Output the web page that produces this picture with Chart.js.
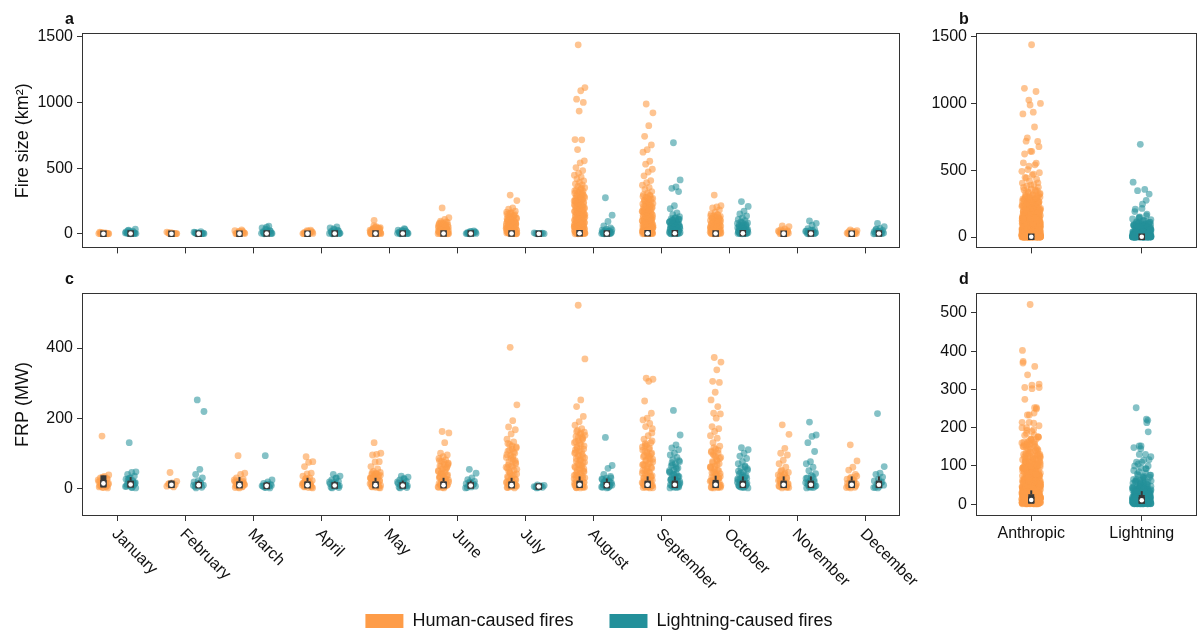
<!DOCTYPE html>
<html>
<head>
<meta charset="utf-8">
<script src="https://cdn.jsdelivr.net/npm/chart.js@4/dist/chart.umd.min.js"></script>
<style>
body { margin: 0; background: #fff; }
#wrap { position: relative; width: 1198px; height: 630px; overflow: hidden; }
canvas { position: absolute; }
</style>
</head>
<body>
<div id="wrap">
  <canvas id="panelA" width="902" height="262" style="left:0;top:0"></canvas>
  <canvas id="panelB" width="298" height="262" style="left:900px;top:0"></canvas>
  <canvas id="panelC" width="960" height="340" style="left:0;top:262px"></canvas>
  <canvas id="panelD" width="298" height="300" style="left:900px;top:262px"></canvas>
  <canvas id="legend" width="1198" height="130" style="left:0;top:576px"></canvas>
</div>
<script>
// categories and tick labels
const months = ['January', 'February', 'March', 'April', 'May', 'June',
  'July', 'August', 'September', 'October', 'November', 'December'];
const causes = ['Anthropic', 'Lightning'];
const sizeTicks = [0, 500, 1000, 1500];
const frpTicks = [0, 200, 400];
const frpAllTicks = [0, 100, 200, 300, 400, 500];

// fire size (km2) per month, human-caused
const sizeHuman = [
  [0.4, 1.2, 2.5, 0.8, 3.6, 5.1, 1.9, 7.4, 10.2, 0.6, 4.3, 13.5, 2.2],
  [0.5, 1.8, 3.9, 6.7, 1.1, 9.8, 13.6, 2.7, 5.2, 0.9],
  [0.7, 2.6, 5.8, 1.6, 9.5, 17.8, 24.4, 29.6, 3.9, 7.7, 12.8, 1.1, 21.3, 15.2],
  [0.8, 2.9, 6.2, 10.7, 17.5, 24.6, 1.7, 4.1, 8.8, 13.9, 21.2, 1.2, 27.3],
  [103, 0.9, 2.7, 5.9, 9.8, 14.6, 21.7, 29.5, 39.8, 47.6, 54.3, 1.8, 4.6, 7.9, 12.4, 18.7, 25.9, 34.8, 3.5, 11.2, 44.1, 61.5, 6.6, 16.3, 0.5, 23.8,
   0.8, 2.2, 3.1, 5.3, 8.6, 10.9, 13.8, 17.2, 20.4, 27.7, 31.6, 37.3, 42.2, 49.9, 1.4, 4.0],
  [197, 123, 109, 96, 87, 79, 71, 64, 57, 51, 44, 38, 32, 27, 22, 18, 14, 10.5, 7.2, 4.8, 2.9, 1.1, 2.1, 12.3, 24.6, 35.4, 47.2, 59.8, 68.9, 84.5, 0.6, 5.9, 16.1, 29.8, 41.1,
   1.5, 3.6, 6.8, 9.4, 13.1, 15.5, 19.7, 23.4, 26.2, 31.1, 33.8, 39.5, 43.3, 49.6, 53.8, 61.9, 66.2, 75.4, 81.7, 91.3],
  [295, 253, 197, 188, 172, 161, 149, 141, 129, 119, 111, 101, 92, 85, 77, 70, 63, 56, 50, 44, 38, 33, 28, 23, 18, 14, 10, 7, 4, 2, 1, 5, 12, 20, 30, 42, 55, 68, 82, 96, 115, 135, 155, 0.5, 3, 9, 16, 25, 36, 48, 61, 74, 89, 105,
   1.5, 4.4, 6.3, 8.2, 11.1, 13.3, 15.6, 19.2, 21.7, 26.4, 31.8, 34.9, 39.7, 45.5, 52.1, 58.7, 65.3, 71.6, 79.4, 86.8, 93.2, 99.1, 108, 117, 125, 138, 146, 158, 166],
  [1440, 1114, 1090, 1026, 1001, 935, 718, 716, 642, 556, 541, 505, 482, 463, 447, 433, 418, 404, 392,
   381, 372, 361, 352, 343, 334, 326, 318, 309, 301, 293, 286, 278, 271, 263, 257, 250, 243, 237, 230, 224, 218, 211, 205, 199, 193, 187, 181, 176, 170, 164, 159, 153, 148, 143, 137, 132, 127, 122, 117, 112, 108, 103, 98, 94, 89, 85, 81, 77, 73, 69, 65, 61, 57, 54, 50, 47, 43, 40, 37, 34, 31, 28, 25, 22, 20, 17, 15, 12, 10, 8, 6, 4.5, 3, 2, 1, 0.5, 1.5, 3.5, 7, 11, 16, 24, 35, 52, 75, 104, 141, 190, 248, 310,
   0.7, 2.4, 5.3, 9.1, 13.4, 18.5, 21.3, 26.7, 29.5, 32.8, 36.1, 41.6, 45.2, 48.8, 52.6, 55.9, 59.4, 63.1, 67.3, 71.2, 75.8, 79.6, 83.3, 87.4, 91.7, 96.2, 100.5, 106, 110, 115, 120, 125, 130, 135, 140, 146, 151, 156, 162, 167, 173, 179, 185, 191, 197, 203, 209, 215, 221, 227, 234, 240, 246, 253, 260, 267, 275, 283, 291, 299, 314, 329, 347],
  [989, 922, 824, 743, 677, 641, 622, 553, 531, 492, 471, 442, 406, 389, 371, 354, 338,
   322, 310, 299, 289, 280, 270, 261, 252, 244, 236, 228, 220, 212, 205, 198, 191, 184, 177, 171, 164, 158, 152, 146, 140, 134, 129, 123, 118, 113, 108, 103, 98, 93, 89, 84, 80, 76, 72, 68, 64, 60, 56, 53, 49, 46, 43, 40, 37, 34, 31, 28, 26, 23, 21, 18, 16, 14, 12, 10, 8, 6, 4.5, 3, 2, 1, 0.5, 2.5, 5, 9, 13, 19, 27, 38, 51, 67, 86, 109, 136, 167, 203, 247,
   0.8, 1.7, 3.8, 7.1, 11.3, 15.2, 19.6, 24.4, 29.3, 32.7, 35.5, 41.8, 44.6, 47.9, 51.2, 54.6, 58.3, 62.1, 66.4, 70.2, 74.1, 78.3, 82.2, 86.5, 91.3, 95.4, 100.6, 105, 110, 116, 121, 126, 131, 137, 143, 149, 155, 161, 168, 174, 181, 188, 195, 202, 209, 216, 224, 232, 240, 256, 265, 275, 285, 294],
  [295, 214, 205, 197, 182, 166, 152, 146, 139, 133, 126, 120, 114, 108, 102, 96, 91, 85, 80, 75, 70, 65, 60, 56, 51, 47, 43, 39, 35, 31, 28, 24, 21, 18, 15, 12, 10, 8, 6, 4, 2.5, 1, 0.5, 3, 7, 13, 22, 33, 46, 62, 83, 111,
   0.8, 1.9, 3.6, 5.2, 9.1, 11.3, 14.1, 16.6, 19.4, 23.2, 26.1, 29.7, 33.4, 37.2, 41.1, 45.3, 49.2, 53.6, 58.3, 63.1, 67.7, 72.6, 77.8, 88.3, 93.6, 99.1, 105, 117, 123, 130, 137, 144],
  [61, 55, 37, 30, 25, 20, 15, 11, 8, 5, 3, 1, 2, 13, 22, 0.5, 6.5, 17],
  [30, 25, 20, 16, 12, 9, 6, 3, 1, 2, 14, 0.5, 4.5]
];

// fire size (km2) per month, lightning-caused
const sizeLightning = [
  [1, 2, 4, 6, 3, 9, 14, 20, 28, 35, 2, 5, 11, 17, 7, 1.5, 24, 3.5, 0.5],
  [0.5, 1, 3, 5, 2, 8, 12, 16, 4, 6, 1.5, 10, 0.8],
  [1, 3, 7, 12, 20, 30, 45, 58, 2, 5, 9, 16, 25, 38, 4, 14, 0.5, 1.8, 51],
  [1, 4, 8, 14, 22, 32, 45, 52, 2, 6, 11, 18, 27, 38, 3, 9, 0.5, 1.5],
  [1, 3, 6, 10, 15, 22, 28, 34, 2, 5, 8, 12, 18, 25, 4, 40, 0.5, 1.5],
  [1, 3, 6, 10, 14, 19, 2, 5, 8, 12, 16, 4, 22, 0.5],
  [0.5, 1, 2, 3, 5, 1.5, 8, 4],
  [275, 142, 94, 60, 45, 35, 28, 22, 17, 13, 10, 7, 5, 3, 2, 1, 0.5, 4, 8, 12, 19, 25, 31, 15, 1.5, 6, 9.5],
  [694, 411, 357, 347, 322, 214, 191, 160, 147, 131, 124, 116, 108, 101, 93, 86, 79, 71, 64, 57, 50, 44, 38, 32, 27, 22, 17, 13, 9, 6, 3.5, 1.5, 0.5, 2.5, 5, 11, 15, 20, 25, 30, 35, 41, 47, 54, 61, 68, 75, 83, 90, 97, 104, 112, 120,
   1, 4, 7, 10, 14, 18, 23, 28, 33, 39, 45, 52, 58, 66, 73, 81, 88, 95, 102, 110],
  [246, 209, 172, 151, 136, 122, 110, 100, 91, 83, 75, 68, 61, 54, 47, 41, 35, 30, 25, 20, 16, 12, 9, 6, 3.5, 1.5, 0.5, 2.5, 5, 11, 18, 27, 38, 50, 64, 79,
   1, 4, 7, 10, 14, 22, 29, 33, 44, 57, 70, 86],
  [98, 80, 66, 40, 32, 26, 21, 16, 12, 9, 6, 3, 1, 2, 18, 28, 0.5, 4.5],
  [79, 54, 42, 32, 26, 21, 16, 12, 9, 6, 3, 1, 2, 18, 0.5, 4.5, 36]
];

// fire radiative power (MW) per month, human-caused
const frpHuman = [
  [149, 38, 34, 30, 26, 22, 19, 16, 13, 11, 9, 7, 5, 3, 24, 12, 8, 1, 2, 4, 6, 10, 14, 17, 20, 28, 32],
  [45, 20, 15, 12, 10, 8, 6, 4, 14],
  [93, 43, 40, 30, 26, 22, 19, 16, 13, 11, 9, 7, 5, 3, 24, 12, 8, 15, 1, 2, 4, 6, 10, 14, 17, 20],
  [90, 76, 74, 62, 43, 41, 35, 30, 26, 22, 19, 16, 13, 11, 9, 7, 5, 3, 24, 12, 8, 28, 1, 2, 4, 6, 10, 14, 17, 20],
  [130, 100, 97, 95, 76, 75, 62, 55, 48, 45, 42, 40, 36, 33, 30, 27, 24, 21, 18, 15, 12, 10, 8, 6, 4, 2, 38, 28, 17, 9,
   1, 3, 5, 7, 11, 13, 16, 19, 22, 25, 29, 31, 34, 37, 41, 44],
  [162, 158, 130, 100, 95, 90, 85, 81, 77, 72, 68, 64, 60, 55, 50, 46, 42, 38, 34, 30, 26, 22, 18, 15, 12, 9, 6, 3, 20, 44, 70, 1, 33, 57,
   2, 4, 5, 8, 10, 11, 14, 16, 19, 24, 28, 32, 36, 40, 48, 53, 62, 66, 75, 79],
  [402, 238, 193, 175, 167, 155, 140, 132, 125, 118, 112, 106, 100, 94, 88, 82, 76, 70, 64, 58, 52, 46, 41, 36, 31, 26, 22, 18, 14, 11, 8, 5, 3, 1, 20, 60, 90, 49, 73, 29, 2, 7,
   4, 6, 9, 10, 12, 13, 16, 17, 21, 24, 27, 33, 38, 43, 54, 62, 67, 79, 85, 96, 103, 109, 115, 121, 128],
  [522, 369, 252, 233, 205, 190, 180, 170, 165, 160, 154, 148, 142, 136, 130, 124, 118, 112, 107, 102, 97, 92, 87, 82, 77, 72, 67, 62, 57, 52, 47, 43, 39, 35, 31, 27, 23, 19, 16, 13, 10, 7, 5, 3, 1, 2, 4, 9, 15, 24, 37, 55, 79, 110, 145, 12, 30, 66,
   1.5, 3.5, 6, 8, 11, 14, 17, 21, 25, 29, 33, 37, 41, 45, 49, 54, 59, 64, 69, 74, 80, 85, 90, 95, 100, 105, 114, 121, 127, 133, 139, 145, 151, 157, 162],
  [314, 311, 305, 249, 214, 200, 195, 185, 176, 170, 150, 140, 130, 124, 118, 112, 106, 100, 95, 90, 85, 80, 75, 70, 65, 60, 55, 50, 45, 40, 36, 32, 28, 24, 20, 16, 13, 10, 7, 4, 2, 1, 3, 8, 14, 22, 33, 48, 67, 92, 121, 158, 5, 11, 18, 26,
   1.5, 3.5, 6, 9, 12, 15, 17, 19, 23, 26, 30, 34, 38, 43, 47, 52, 57, 62, 68, 73, 78, 83, 88, 93, 98, 103, 109, 115, 127, 135],
  [373, 360, 338, 305, 302, 274, 252, 233, 214, 212, 200, 176, 170, 162, 150, 143, 130, 120, 112, 106, 100, 94, 88, 82, 76, 70, 64, 58, 52, 47, 42, 37, 32, 28, 24, 20, 16, 13, 10, 7, 4, 2, 1, 3, 9, 18, 30, 45, 61, 79, 97, 5, 12,
   1.5, 3.5, 6, 8, 11, 14, 17, 19, 22, 26, 30, 34, 39, 44, 50, 55, 61, 67, 73, 85, 91, 103, 109, 116],
  [181, 154, 114, 100, 95, 80, 70, 60, 52, 45, 40, 35, 30, 26, 22, 18, 14, 11, 8, 5, 3, 1, 2, 10, 20,
   4, 6, 7, 9, 12, 13, 16, 24, 28, 33, 38, 43, 48],
  [124, 78, 60, 52, 40, 32, 26, 21, 16, 12, 9, 6, 3, 1, 2, 18, 4, 7, 10, 14, 23, 28, 35]
];

// fire radiative power (MW) per month, lightning-caused
const frpLightning = [
  [130, 47, 45, 40, 35, 30, 26, 22, 19, 16, 13, 11, 9, 7, 5, 3, 24, 14, 10, 6, 18, 28, 1, 2],
  [252, 219, 54, 40, 30, 22, 18, 14, 11, 9, 7, 5, 3, 12, 8, 16, 1],
  [93, 24, 18, 14, 11, 9, 7, 5, 3, 8, 12, 6, 1, 2],
  [40, 35, 28, 24, 20, 16, 13, 11, 9, 7, 5, 3, 8, 12, 18, 30, 1, 2],
  [35, 32, 28, 24, 20, 17, 14, 11, 9, 7, 5, 3, 8, 12, 18, 26, 1, 2],
  [54, 43, 30, 25, 20, 16, 13, 10, 8, 6, 4, 2, 12, 18, 1],
  [10, 8, 6, 4, 3, 2, 5, 7, 1],
  [145, 65, 57, 40, 34, 29, 25, 21, 18, 15, 12, 10, 8, 6, 4, 2, 20, 30, 1, 3, 5, 7, 9, 11, 14, 17, 23, 27],
  [222, 152, 124, 115, 110, 100, 95, 88, 82, 76, 70, 64, 58, 52, 47, 42, 37, 33, 29, 25, 21, 18, 15, 12, 9, 6, 3, 1, 2, 5, 11, 16, 23, 31, 40, 50, 61, 73,
   4, 7, 10, 13, 17, 20, 24, 27, 35, 39, 45, 55, 67, 79],
  [116, 110, 100, 92, 85, 76, 70, 64, 58, 52, 46, 41, 36, 31, 27, 23, 19, 15, 12, 9, 6, 3, 1, 2, 5, 11, 17, 24, 33, 44, 56,
   4, 7, 10, 13, 17, 21, 25, 29, 38, 49, 61],
  [189, 152, 148, 130, 105, 76, 70, 60, 50, 42, 36, 30, 25, 20, 16, 12, 9, 6, 3, 1, 2, 4, 7, 10, 14, 18, 22, 28, 33],
  [213, 62, 43, 40, 32, 26, 21, 16, 12, 9, 6, 3, 18, 1, 2]
];

// box summaries: [q1, median, q3] and for FRP [q1, median, q3, whisker top]
const sizeBoxHuman = [[0.3, 1, 3], [0.3, 1, 3], [0.4, 1.2, 4], [0.4, 1.2, 4], [0.5, 1.8, 6], [0.6, 2.2, 8],
  [0.8, 3, 12], [1, 4, 16], [1, 4, 15], [0.8, 3, 11], [0.5, 1.5, 5], [0.4, 1.2, 4]];
const sizeBoxLightning = [[0.5, 2, 6], [0.4, 1.5, 5], [0.6, 2.5, 9], [0.7, 3, 10], [0.6, 2.5, 8], [0.5, 2, 6],
  [0.3, 1, 3], [0.6, 2.5, 8], [1, 4, 14], [0.9, 3.5, 12], [0.7, 3, 10], [0.8, 3, 11]];
const frpBoxHuman = [[2, 14, 37, 38], [4, 10, 22, 24], [4, 9, 20, 32], [4, 9, 20, 30], [4, 9, 20, 30], [4, 9, 20, 30],
  [4, 9, 20, 30], [4, 10, 22, 34], [4, 10, 22, 34], [4, 10, 24, 36], [4, 10, 22, 34], [4, 10, 22, 34]];
const frpBoxLightning = [[4, 11, 22, 32], [4, 9, 18, 22], [3, 7, 14, 18], [3, 8, 16, 20], [3, 8, 16, 22], [3, 8, 16, 22],
  [2, 5, 9, 10], [3, 9, 18, 28], [4, 10, 22, 34], [4, 10, 22, 34], [4, 10, 22, 34], [4, 10, 22, 34]];
const sizeBoxAll = [[0.5, 2, 8], [0.6, 2.5, 9]];
const frpBoxAll = [[1, 11, 26, 36], [1, 10, 24, 34]];

const ORANGE = '#fe9c48';
const TEAL = '#23909a';
const ORANGE_PT = 'rgba(254,156,72,0.6)';
const TEAL_PT = 'rgba(35,144,154,0.56)';
const BOX = '#383838';
const INK = '#111';
const FONT = "'Liberation Sans', Arial, sans-serif";

Chart.defaults.font.family = FONT;
Chart.defaults.font.size = 16;
Chart.defaults.color = INK;

// low-discrepancy horizontal spread for the strip points
function spread(k) {
  return ((k * 0.618034 + 0.37) % 1) * 2 - 1;
}

function stripPoints(groups, shift, width) {
  const pts = [];
  groups.forEach((vals, i) => {
    vals.forEach((v, k) => pts.push({x: i + shift + spread(k) * width, y: v}));
  });
  return pts;
}

function stripSet(points, color) {
  return {type: 'scatter', data: points, backgroundColor: color, borderWidth: 0,
    pointRadius: 3.4, pointHoverRadius: 3.4, order: 5};
}

// boxes with a white median dot
function boxSets(boxes, shift) {
  const sets = [
    {type: 'scatter', data: boxes.map((b, i) => ({x: i + shift, y: b[1]})), pointStyle: 'circle',
      pointRadius: 2.3, pointHoverRadius: 2.3, backgroundColor: '#fff', borderWidth: 0, order: 0},
    {type: 'scatter', data: boxes.map((b, i) => ({x: i + shift, y: b[1]})), pointStyle: 'rect',
      pointRadius: 4.6, pointHoverRadius: 4.6, backgroundColor: BOX, borderWidth: 0, order: 1},
    {type: 'bar', data: boxes.map((b, i) => ({x: i + shift, y: [b[0], b[2]]})), backgroundColor: BOX,
      maxBarThickness: 6, grouped: false, order: 2}
  ];
  if (boxes[0].length > 3) {
    sets.push({type: 'bar', data: boxes.map((b, i) => ({x: i + shift, y: [b[2], b[3]]})), backgroundColor: BOX,
      maxBarThickness: 2, grouped: false, order: 2});
  }
  return sets;
}

const framePlugin = {
  id: 'frame',
  afterDatasetsDraw(chart) {
    const {ctx, chartArea: a} = chart;
    ctx.save();
    ctx.strokeStyle = '#333';
    ctx.lineWidth = 1;
    ctx.strokeRect(Math.round(a.left) + 0.5, Math.round(a.top) + 0.5,
      Math.round(a.right - a.left) - 1, Math.round(a.bottom - a.top) - 1);
    ctx.restore();
  }
};

function letterPlugin(letter) {
  return {
    id: 'letter',
    afterDraw(chart) {
      const {ctx, chartArea} = chart;
      ctx.save();
      ctx.font = 'bold 16px ' + FONT;
      ctx.fillStyle = INK;
      ctx.textAlign = 'left';
      ctx.textBaseline = 'alphabetic';
      ctx.fillText(letter, chartArea.left - 17, chartArea.top - 9);
      ctx.restore();
    }
  };
}

// slanted month names under panel c
const monthLabelPlugin = {
  id: 'monthLabels',
  afterDraw(chart) {
    const {ctx, chartArea, scales} = chart;
    ctx.save();
    ctx.font = '16px ' + FONT;
    ctx.fillStyle = INK;
    ctx.textAlign = 'left';
    ctx.textBaseline = 'top';
    months.forEach((m, i) => {
      const px = scales.x.getPixelForValue(i);
      ctx.save();
      ctx.translate(px + 3, chartArea.bottom + 10);
      ctx.rotate(Math.PI / 4);
      ctx.fillText(m, 0, 0);
      ctx.restore();
    });
    ctx.restore();
  }
};

function makePanel(id, cfg) {
  const gridOpts = {drawOnChartArea: false, drawTicks: true, tickLength: 5, color: '#333', offset: false};
  return new Chart(document.getElementById(id), {
    type: 'scatter',
    data: {datasets: cfg.datasets},
    options: {
      responsive: false,
      animation: false,
      events: [],
      layout: {autoPadding: false, padding: {top: cfg.padTop, right: cfg.padRight || 2, left: 0, bottom: 0}},
      plugins: {legend: {display: false}, tooltip: {enabled: false}},
      scales: {
        x: {
          type: 'linear', min: cfg.xMin, max: cfg.xMax, offset: false,
          grid: gridOpts, border: {display: false},
          ticks: {display: !!cfg.xLabels, padding: 3, color: INK, font: {size: 16},
            callback: v => cfg.xLabels ? cfg.xLabels[v] : ''},
          afterBuildTicks: s => { s.ticks = cfg.xTicks.map(v => ({value: v})); },
          afterFit: s => { s.height = cfg.xHeight; }
        },
        y: {
          type: 'linear', min: cfg.yMin, max: cfg.yMax, offset: false,
          grid: gridOpts, border: {display: false},
          ticks: {padding: 4, color: INK, font: {size: 16}, callback: v => String(v)},
          title: {display: !!cfg.yTitle, text: cfg.yTitle || '', color: INK, font: {size: 18},
            padding: {top: 12, bottom: 0}},
          afterBuildTicks: s => { s.ticks = cfg.yTicks.map(v => ({value: v})); },
          afterFit: s => { s.width = cfg.yWidth; }
        }
      }
    },
    plugins: [framePlugin, letterPlugin(cfg.letter)].concat(cfg.plugins || [])
  });
}

const monthIdx = months.map((m, i) => i);

// a: fire size by month
makePanel('panelA', {
  letter: 'a', padTop: 33, xHeight: 7, yWidth: 82,
  xMin: -0.515, xMax: 11.51, xTicks: monthIdx,
  yMin: -111, yMax: 1530, yTicks: sizeTicks, yTitle: 'Fire size (km²)',
  datasets: [
    stripSet(stripPoints(sizeHuman, -0.2, 0.08), ORANGE_PT),
    stripSet(stripPoints(sizeLightning, 0.2, 0.08), TEAL_PT)
  ].concat(boxSets(sizeBoxHuman, -0.2), boxSets(sizeBoxLightning, 0.2))
});

// b: fire size by cause, all months pooled
makePanel('panelB', {
  letter: 'b', padTop: 33, xHeight: 7, yWidth: 76, padRight: 1,
  xMin: -0.5, xMax: 1.5, xTicks: [0, 1],
  yMin: -85, yMax: 1528, yTicks: sizeTicks,
  datasets: [
    stripSet(stripPoints([sizeHuman.flat(), []], 0, 0.085), ORANGE_PT),
    stripSet(stripPoints([[], sizeLightning.flat()], 0, 0.085), TEAL_PT)
  ].concat(boxSets(sizeBoxAll, 0))
});

// c: FRP by month
makePanel('panelC', {
  letter: 'c', padTop: 31, xHeight: 86, yWidth: 82, padRight: 60,
  xMin: -0.515, xMax: 11.51, xTicks: monthIdx,
  yMin: -79, yMax: 557, yTicks: frpTicks, yTitle: 'FRP (MW)',
  plugins: [monthLabelPlugin],
  datasets: [
    stripSet(stripPoints(frpHuman, -0.2, 0.08), ORANGE_PT),
    stripSet(stripPoints(frpLightning, 0.2, 0.08), TEAL_PT)
  ].concat(boxSets(frpBoxHuman, -0.2), boxSets(frpBoxLightning, 0.2))
});

// d: FRP by cause, all months pooled
makePanel('panelD', {
  letter: 'd', padTop: 31, xHeight: 46, yWidth: 76, padRight: 1,
  xMin: -0.5, xMax: 1.5, xTicks: [0, 1], xLabels: causes,
  yMin: -31, yMax: 552, yTicks: frpAllTicks,
  datasets: [
    stripSet(stripPoints([frpHuman.flat(), []], 0, 0.085), ORANGE_PT),
    stripSet(stripPoints([[], frpLightning.flat()], 0, 0.085), TEAL_PT)
  ].concat(boxSets(frpBoxAll, 0))
});

// shared legend along the bottom
new Chart(document.getElementById('legend'), {
  type: 'scatter',
  data: {datasets: [
    {label: 'Human-caused fires', data: [], backgroundColor: ORANGE, borderColor: ORANGE, borderWidth: 0},
    {label: 'Lightning-caused fires', data: [], backgroundColor: TEAL, borderColor: TEAL, borderWidth: 0}
  ]},
  options: {
    responsive: false,
    animation: false,
    events: [],
    layout: {autoPadding: false},
    scales: {x: {display: false}, y: {display: false}},
    plugins: {
      tooltip: {enabled: false},
      legend: {display: true, position: 'top',
        labels: {boxWidth: 38, boxHeight: 14, padding: 36, color: INK, font: {size: 18}}}
    }
  }
});
</script>
</body>
</html>
